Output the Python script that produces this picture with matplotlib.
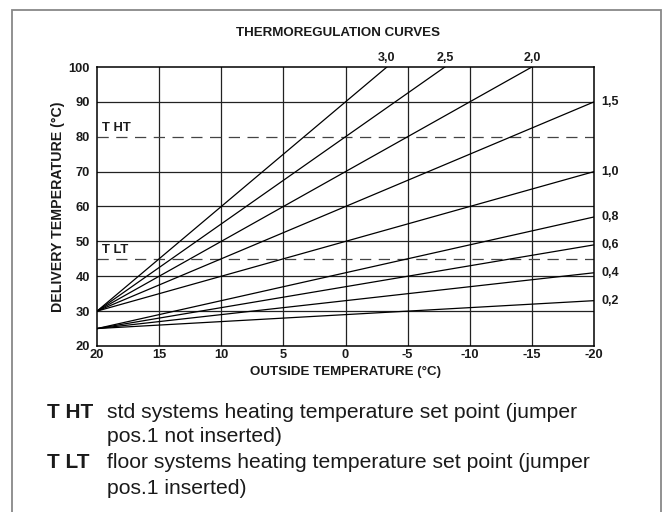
import numpy as np
import matplotlib
matplotlib.use('Agg')
import matplotlib.pyplot as plt
from matplotlib.patches import Rectangle

plt.rcParams['font.family'] = ['Liberation Sans', 'DejaVu Sans']

# curve slopes and starting delivery temperature at outside 20 °C
pendenze = [3.0, 2.5, 2.0, 1.5, 1.0, 0.8, 0.6, 0.4, 0.2]
partenza = [30, 30, 30, 30, 30, 25, 25, 25, 25]
etichette = ['3,0', '2,5', '2,0', '1,5', '1,0', '0,8', '0,6', '0,4', '0,2']

x_ticks = [20, 15, 10, 5, 0, -5, -10, -15, -20]
y_ticks = [20, 30, 40, 50, 60, 70, 80, 90, 100]
t_ht = 80
t_lt = 45

W, H = 664, 512
fig = plt.figure(figsize=(W / 100, H / 100), dpi=100)
ax = fig.add_axes([97 / W, 1 - 346 / H, (594 - 97) / W, (346 - 67) / H])

ax.set_xlim(20, -20)
ax.set_ylim(20, 100)

for v in x_ticks[1:-1]:
    ax.axvline(v, color='#222222', lw=0.9, zorder=1)
for v in y_ticks[1:-1]:
    if v == t_ht:
        continue  # replaced by the dashed set point line
    ax.axhline(v, color='#222222', lw=0.9, zorder=1)

# set points
ax.plot([20, -20], [t_ht, t_ht], ls=(0, (9, 6)), color='#444444', lw=0.9, zorder=2)
ax.plot([20, -20], [t_lt, t_lt], ls=(0, (9, 6)), color='#444444', lw=0.9, zorder=2)
ax.text(19.6, t_ht + 0.8, 'T HT', fontsize=9.3, fontweight='bold', va='bottom', ha='left',
        color='#1a1a1a')
ax.text(19.6, t_lt + 0.8, 'T LT', fontsize=9.3, fontweight='bold', va='bottom', ha='left',
        color='#1a1a1a')

xx = np.array([20, -20])
for k, y0, lab in zip(pendenze, partenza, etichette):
    yy = y0 + k * (20 - xx)
    ax.plot(xx, yy, color='black', lw=0.9, zorder=3, clip_on=True)
    y_end = y0 + k * 40
    if y_end > 100:
        x_top = 20 - (100 - y0) / k
        ax.text(x_top, 101.0, lab, fontsize=9, fontweight='bold', ha='center', va='bottom',
                color='#1a1a1a')
    else:
        ax.text(-20.6, y_end, lab, fontsize=9, fontweight='bold', ha='left', va='center',
                color='#1a1a1a')

ax.set_xticks(x_ticks)
ax.set_yticks(y_ticks)
ax.set_xticklabels([str(v) for v in x_ticks], fontsize=9.3, fontweight='bold', color='#1a1a1a')
ax.set_yticklabels([str(v) for v in y_ticks], fontsize=9.3, fontweight='bold', color='#1a1a1a')
ax.tick_params(axis='x', length=0, pad=2)
ax.tick_params(axis='y', length=0, pad=5)
for s in ax.spines.values():
    s.set_linewidth(1.1)
    s.set_color('black')

ax.set_xlabel('OUTSIDE TEMPERATURE (°C)', fontsize=9.6, fontweight='bold', labelpad=4,
              color='#1a1a1a')
ax.set_ylabel('DELIVERY TEMPERATURE (°C)', fontsize=10.2, fontweight='bold', labelpad=3,
              color='#1a1a1a')

fig.text(338 / W, 1 - 33 / H, 'THERMOREGULATION CURVES', fontsize=9.6, fontweight='bold',
         ha='center', va='center', color='#1a1a1a')

# outer frame
fig.patches.append(Rectangle((12 / W, -0.1), (661 - 12) / W, 1.1 - 9.5 / H,
                             transform=fig.transFigure, fill=False,
                             edgecolor='#888888', lw=1.3))

righe = [(412, 'T HT', 'std systems heating temperature set point (jumper'),
         (437, '', 'pos.1 not inserted)'),
         (463, 'T LT', 'floor systems heating temperature set point (jumper'),
         (489, '', 'pos.1 inserted)')]
for y, sig, txt in righe:
    if sig:
        fig.text(47 / W, 1 - y / H, sig, fontsize=15, fontweight='bold', ha='left', va='center',
                 color='#1a1a1a')
    fig.text(107 / W, 1 - y / H, txt, fontsize=15.2, ha='left', va='center', color='#1a1a1a')

fig.savefig('out.png', dpi=100, facecolor='white')
